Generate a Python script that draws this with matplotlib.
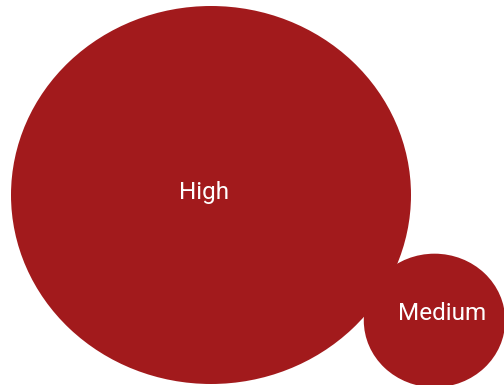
import numpy as np
import matplotlib.pyplot as plt
from matplotlib.patches import Ellipse

# bubble data
labels = ['High', 'Medium']
values = [8, 1]

# layout (pixel coordinates of the 504x385 canvas)
centers_x = [211, 434.5]
centers_y = [195, 320.5]
label_x = [204, 442]
label_y = [193, 313]

color = '#A21A1C'
max_rx = 200
squash = 0.945

fig = plt.figure(figsize=(5.04, 3.85), dpi=100)
ax = fig.add_axes([0, 0, 1, 1])
ax.set_xlim(0, 504)
ax.set_ylim(385, 0)
ax.axis('off')

for lab, v, cx, cy, tx, ty in zip(labels, values, centers_x, centers_y, label_x, label_y):
    rx = max_rx * np.sqrt(v / max(values))
    ax.add_patch(Ellipse((cx, cy), 2 * rx, 2 * rx * squash, facecolor=color, edgecolor='none'))
    ax.text(tx, ty, lab, color='white', fontsize=17.5, family='Roboto', fontweight='normal',
            ha='center', va='center')

fig.savefig('out.png', dpi=100)
